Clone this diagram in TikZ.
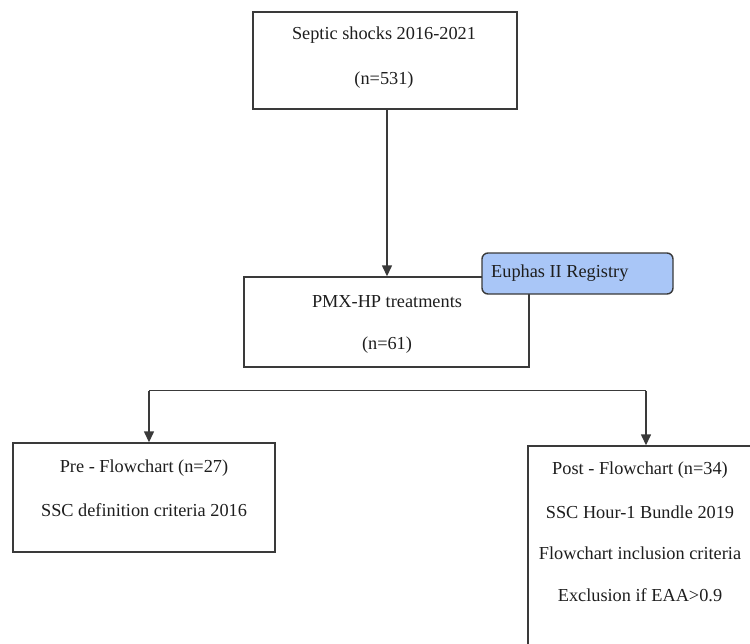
\documentclass[tikz,border=0pt]{standalone}
\usepackage{fontspec}
\setmainfont{Liberation Serif}
\usetikzlibrary{arrows.meta}
\definecolor{lnc}{HTML}{3A3A3A}
\definecolor{txc}{HTML}{1E1E1E}
\definecolor{eufill}{HTML}{A9C6F7}
\begin{document}
\begin{tikzpicture}[x=1pt,y=-1pt,
  boxst/.style={draw=lnc, line width=1.4pt, fill=white, rectangle, inner sep=0pt},
  lbl/.style={text=txc, font=\fontsize{18.3}{22}\selectfont, inner sep=0pt},
  arr/.style={draw=lnc, line width=1.4pt, -{Triangle[width=10pt,length=11pt]}},
  ln/.style={draw=lnc, line width=1.4pt},
  regst/.style={draw=lnc, line width=1.4pt, fill=eufill, rounded corners=6pt, rectangle, inner sep=0pt}
]
\useasboundingbox (0,0) rectangle (750,643);
% boxes
\node[boxst, minimum width=264pt, minimum height=97pt] (top) at (385,60.5) {};
\node[boxst, minimum width=285pt, minimum height=90pt] (pmx) at (386.5,322) {};
\node[regst, minimum width=191pt, minimum height=41pt] (reg) at (577.5,273.5) {};
\node[boxst, minimum width=262pt, minimum height=109pt] (pre) at (144,497.5) {};
\node[boxst, minimum width=238pt, minimum height=240pt] (post) at (647,566) {};
% texts
\node[lbl] (t1) at (384,35) {Septic shocks 2016-2021};
\node[lbl] (t2) at (384,80) {(n=531)};
\node[lbl] (p1) at (387,302) {PMX-HP treatments};
\node[lbl] (p2) at (387,345) {(n=61)};
\node[lbl, anchor=west] (r1) at (491,273.5) {Euphas II Registry};
\node[lbl] (a1) at (144,468) {Pre - Flowchart (n=27)};
\node[lbl] (a2) at (144,510) {SSC definition criteria 2016};
\node[lbl] (b1) at (640,470) {Post - Flowchart (n=34)};
\node[lbl] (b2) at (640,512) {SSC Hour-1 Bundle 2019};
\node[lbl] (b3) at (640,553) {Flowchart inclusion criteria};
\node[lbl] (b4) at (640,595) {Exclusion if EAA>0.9};
% connectors
\draw[arr] (top.south -| 387,0) -- (pmx.north -| 387,0);
\coordinate (hl) at (149,390.5);
\coordinate (hr) at (646,390.5);
\draw[ln] (hl) -- (hr);
\draw[arr] (hl) -- (hl |- pre.north);
\draw[arr] (hr) -- (hr |- post.north);
\end{tikzpicture}
\end{document}
